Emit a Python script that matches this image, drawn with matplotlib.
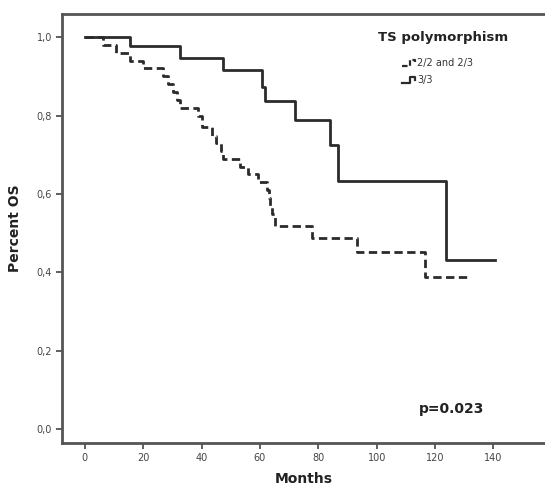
import numpy as np
import matplotlib
matplotlib.use("Agg")
import matplotlib.pyplot as plt

# Kaplan-Meier step data
# group 3/3 (solid)
t_33 = [0, 15.4, 32.6, 47.4, 60.6, 61.7, 72.0, 84.0, 86.8, 123.8, 140.6]
s_33 = [1.0, 0.978, 0.948, 0.916, 0.873, 0.836, 0.789, 0.724, 0.634, 0.431, 0.431]

# group 2/2 and 2/3 (dashed)
t_22 = [0, 6.3, 10.5, 15.5, 20.0, 26.8, 28.6, 30.3, 31.4, 32.6, 38.9, 40.0,
        43.4, 45.1, 46.5, 47.4, 53.1, 56.0, 59.4, 62.3, 63.0, 63.5, 64.0,
        65.1, 77.7, 93.1, 116.6, 130.8]
s_22 = [1.0, 0.98, 0.96, 0.94, 0.921, 0.90, 0.88, 0.86, 0.84, 0.819, 0.80, 0.77,
        0.749, 0.73, 0.71, 0.69, 0.67, 0.65, 0.63, 0.61, 0.59, 0.57, 0.55,
        0.519, 0.488, 0.451, 0.387, 0.387]

xticks = [0, 20, 40, 60, 80, 100, 120, 140]
yticks = [0.0, 0.2, 0.4, 0.6, 0.8, 1.0]
ylabels = ["0,0", "0,2", "0,4", "0,6", "0,8", "1,0"]

line_col = "#2b2b2b"

fig = plt.figure(figsize=(5.45, 4.96), dpi=100)
ax = fig.add_axes([0.113, 0.107, 0.887, 0.864])

ax.step(t_33, s_33, where="post", color=line_col, lw=2.0)
ax.step(t_22, s_22, where="post", color=line_col, lw=2.0, dashes=(3, 1.6))

ax.set_xlim(-8, 157.7)
ax.set_ylim(-0.035, 1.058)

ax.set_xticks(xticks)
ax.set_xticklabels([str(v) for v in xticks])
ax.set_yticks(yticks)
ax.set_yticklabels(ylabels)
ax.tick_params(direction="out", length=4, width=1.2, colors="#444444",
               labelsize=7, pad=3)

for side in ["top", "left", "bottom"]:
    ax.spines[side].set_linewidth(2)
    ax.spines[side].set_color("#555555")
ax.spines["right"].set_visible(False)

ax.set_xlabel("Months", fontsize=10, fontweight="bold", color="#222222", labelpad=7)
ax.set_ylabel("Percent OS", fontsize=10, fontweight="bold", color="#222222", labelpad=10)

# legend, drawn by hand to look like the SPSS one
ax.text(0.655, 0.946, "TS polymorphism", transform=ax.transAxes, fontsize=9.5,
        fontweight="bold", color="#222222", va="center", ha="left")

def legend_glyph(y, dashed):
    x0 = 0.704
    xs = [x0, x0 + 0.016, x0 + 0.016, x0 + 0.028, x0 + 0.028]
    ys = [y - 0.007, y - 0.007, y + 0.007, y + 0.007, y + 0.001]
    kw = dict(transform=ax.transAxes, color=line_col, lw=1.6, clip_on=False)
    if dashed:
        kw["dashes"] = (2.5, 1.2)
    ax.plot(xs, ys, **kw)

legend_glyph(0.887, True)
ax.text(0.735, 0.887, "2/2 and 2/3", transform=ax.transAxes, fontsize=7,
        color="#333333", va="center", ha="left")
legend_glyph(0.847, False)
ax.text(0.735, 0.847, "3/3", transform=ax.transAxes, fontsize=7,
        color="#333333", va="center", ha="left")

ax.text(0.74, 0.079, "p=0.023", transform=ax.transAxes, fontsize=10,
        fontweight="bold", color="#222222", va="center", ha="left")

fig.savefig("out.png", dpi=100)
